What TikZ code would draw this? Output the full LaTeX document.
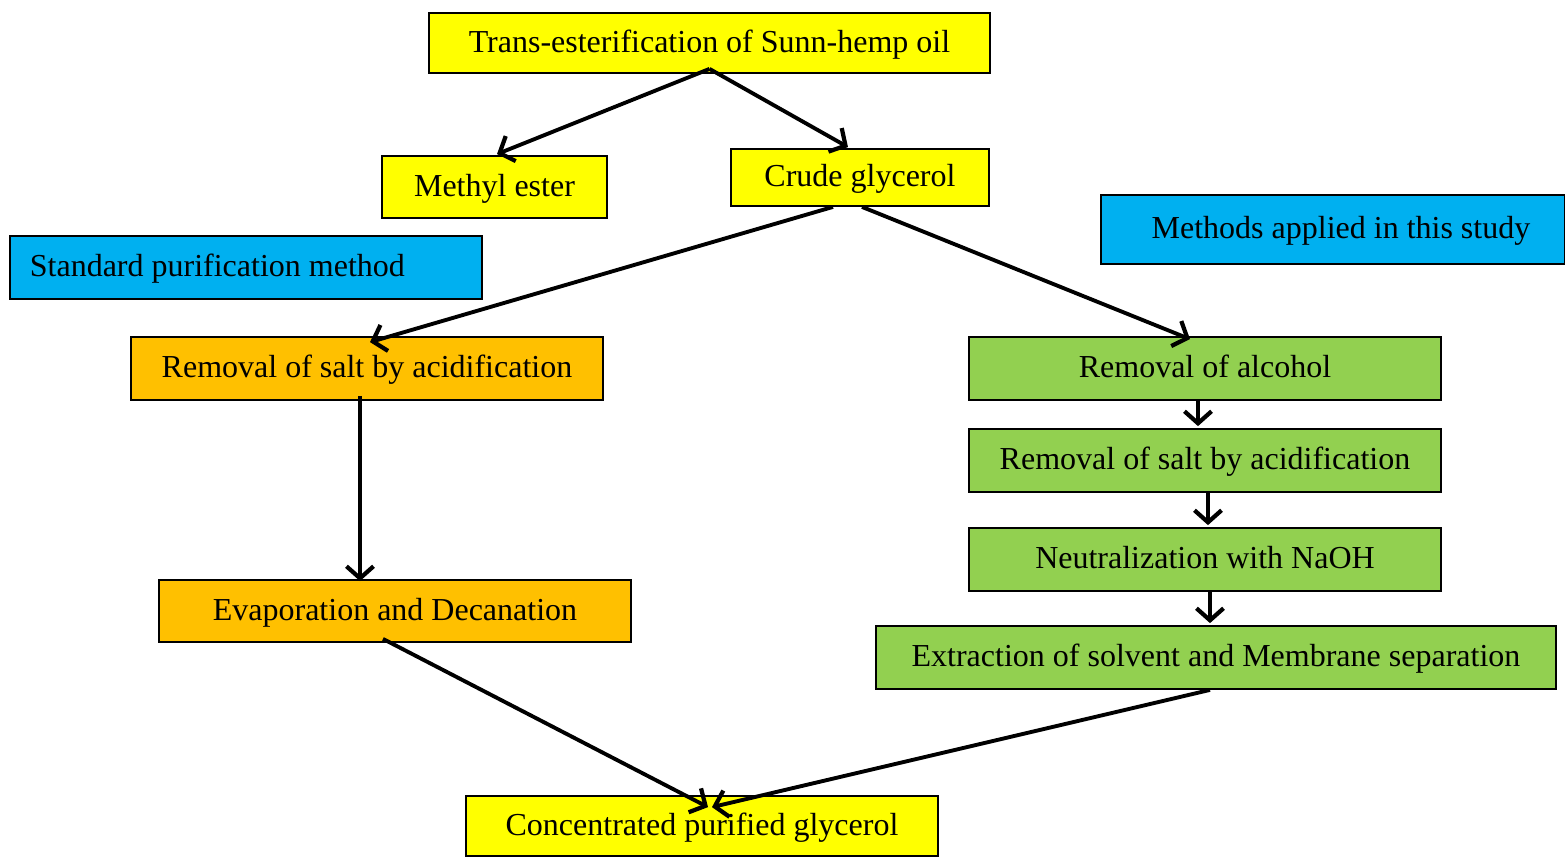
\documentclass[tikz,border=0pt]{standalone}
\usepackage{fontspec}
\setmainfont{Liberation Serif}
\usetikzlibrary{arrows.meta,calc}
\definecolor{cyel}{HTML}{FFFF00}
\definecolor{corg}{HTML}{FFC000}
\definecolor{cgrn}{HTML}{92D050}
\definecolor{cblu}{HTML}{00B0F0}
\begin{document}
\begin{tikzpicture}[x=0.01cm,y=-0.01cm,
  box/.style={draw=black,line width=0.5pt,inner sep=0pt,align=center,text height=0.21cm,text depth=0.03cm,font=\fontsize{9.1}{11}\selectfont},
  ybox/.style={box,fill=cyel},
  obox/.style={box,fill=corg},
  gbox/.style={box,fill=cgrn},
  bbox/.style={box,fill=cblu},
  arr/.style={line width=1.1pt,-{Straight Barb[length=1.2mm,width=2.7mm,line width=1.2pt]}}]
\useasboundingbox (0,0) rectangle (1565,856);
\fill[white] (0,0) rectangle (1565,856);
\node[ybox,minimum width=5.61cm,minimum height=0.60cm] (trans) at (709.5,43) {Trans-esterification of Sunn-hemp oil};
\node[ybox,minimum width=2.25cm,minimum height=0.62cm] (methyl) at (494.5,187) {Methyl ester};
\node[ybox,minimum width=2.58cm,minimum height=0.57cm] (crude) at (860,177.5) {Crude glycerol};
\node[bbox,minimum width=4.64cm,minimum height=0.69cm] (methods) at (1333,229.5) {\hspace*{0.16cm}Methods applied in this study};
\node[bbox,minimum width=4.72cm,minimum height=0.63cm] (standard) at (246,267.5) {\makebox[4.32cm][l]{Standard purification method}};
\node[obox,minimum width=4.72cm,minimum height=0.63cm] (salt1) at (367,368.5) {Removal of salt by acidification};
\node[obox,minimum width=4.72cm,minimum height=0.62cm] (evap) at (395,611) {Evaporation and Decanation};
\node[gbox,minimum width=4.72cm,minimum height=0.63cm] (alcohol) at (1205,368.5) {Removal of alcohol};
\node[gbox,minimum width=4.72cm,minimum height=0.63cm] (salt2) at (1205,460.5) {Removal of salt by acidification};
\node[gbox,minimum width=4.72cm,minimum height=0.63cm] (neutral) at (1205,559.5) {Neutralization with NaOH};
\node[gbox,minimum width=6.80cm,minimum height=0.63cm] (extract) at (1216,657.5) {Extraction of solvent and Membrane separation};
\node[ybox,minimum width=4.72cm,minimum height=0.60cm] (conc) at (702,826) {Concentrated purified glycerol};
% arrows
\draw[arr] ($(trans.south)+(0,-5)$) -- ($(methyl.north)+(2.5,-1)$);
\draw[arr] ($(trans.south)+(0,-5)$) -- ($(crude.north)+(-12,-1)$);
\draw[arr] ($(crude.south)+(-27,0)$) -- ($(salt1.north)+(3,6)$);
\draw[arr] ($(crude.south)+(2,0)$) -- ($(alcohol.north)+(-15,3)$);
\draw[arr] ($(salt1.south)+(-7,-5)$) coordinate (s1) -- ($(s1 |- evap.north)+(0,2)$);
\draw[arr] ($(alcohol.south)+(-7,0)$) coordinate (a1) -- ($(a1 |- salt2.north)+(0,-2)$);
\draw[arr] ($(salt2.south)+(3,0)$) coordinate (a2) -- ($(a2 |- neutral.north)+(0,-2)$);
\draw[arr] ($(neutral.south)+(5,0)$) coordinate (a3) -- ($(a3 |- extract.north)+(0,-2)$);
\draw[arr] ($(evap.south)+(-12,-4)$) -- ($(conc.north)+(6,12)$);
\draw[arr] ($(extract.south)+(-6,0)$) -- ($(conc.north)+(10,12)$);
\end{tikzpicture}
\end{document}
